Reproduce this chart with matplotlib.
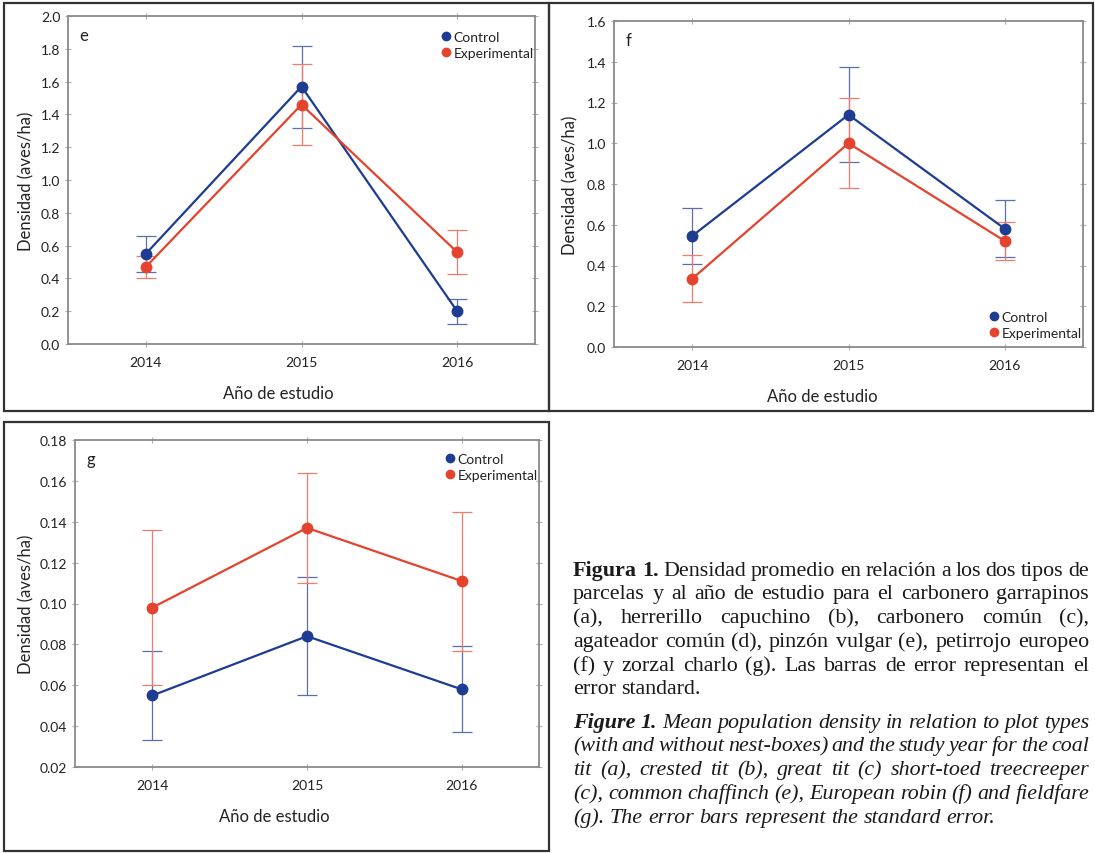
import numpy as np
import matplotlib
matplotlib.use('Agg')
import matplotlib.pyplot as plt
from matplotlib.lines import Line2D

########################################################
# Donnees
anios = [2014, 2015, 2016]
series = ['Control', 'Experimental']

# panel e
e_control = [0.55, 1.57, 0.20]
e_control_err = [0.11, 0.25, 0.075]
e_exp = [0.47, 1.46, 0.56]
e_exp_err = [0.065, 0.245, 0.135]

# panel f
f_control = [0.545, 1.14, 0.58]
f_control_err = [0.137, 0.233, 0.14]
f_exp = [0.335, 1.0, 0.52]
f_exp_err = [0.115, 0.22, 0.092]

# panel g
g_control = [0.055, 0.084, 0.058]
g_control_err = [0.022, 0.029, 0.021]
g_exp = [0.098, 0.137, 0.111]
g_exp_err = [0.038, 0.027, 0.034]

e_yticks = [0.0, 0.2, 0.4, 0.6, 0.8, 1.0, 1.2, 1.4, 1.6, 1.8, 2.0]
f_yticks = [0.0, 0.2, 0.4, 0.6, 0.8, 1.0, 1.2, 1.4, 1.6]
g_yticks = [0.02, 0.04, 0.06, 0.08, 0.10, 0.12, 0.14, 0.16, 0.18]

########################################################
W, H = 1095, 854
AZUL = '#1e3c92'
ROJO = '#e4432e'
AZUL_ERR = '#5d6fae'
ROJO_ERR = '#ee7d6e'
GRIS = '#8a8a8a'
TXT = '#222222'
plt.rcParams['font.family'] = ['Lato', 'DejaVu Sans']

fig = plt.figure(figsize=(W / 100, H / 100), dpi=100)


def rect(l, t, r, b):
    return [l / W, 1 - b / H, (r - l) / W, (b - t) / H]


def caja(l, t, r, b):
    # cadre noir autour de chaque panneau
    fig.add_artist(plt.Rectangle((l / W, 1 - b / H), (r - l) / W, (b - t) / H,
                                 transform=fig.transFigure, fill=False,
                                 edgecolor='#333333', lw=1.6))


def panel(r, ctrl, ctrl_err, exp, exp_err, yticks, fmt, letra, leg_pos, xlab_x, ylab_x):
    ax = fig.add_axes(rect(*r))
    for vals, err, col, colerr in [(ctrl, ctrl_err, AZUL, AZUL_ERR),
                                   (exp, exp_err, ROJO, ROJO_ERR)]:
        ax.errorbar(anios, vals, yerr=err, color=col, ecolor=colerr, elinewidth=0.9,
                    capsize=7, capthick=0.9, lw=1.6, marker='o', ms=7.5, zorder=3)
    ax.set_xlim(2013.5, 2016.5)
    ax.set_ylim(yticks[0], yticks[-1])
    ax.set_xticks(anios)
    ax.set_yticks(yticks)
    ax.set_yticklabels([fmt.format(v) for v in yticks])
    for s in ax.spines.values():
        s.set_color(GRIS)
        s.set_linewidth(1.3)
    ax.tick_params(direction='inout', length=5, width=0.8, color='#b0b0b0',
                   top=True, right=True, labelsize=10, labelcolor=TXT, pad=3)
    ax.tick_params(axis='x', pad=6)
    ax.set_ylabel('Densidad (aves/ha)', fontsize=12, color=TXT)
    ax.set_xlabel('Año de estudio', fontsize=12, color=TXT)
    ax.xaxis.set_label_coords(xlab_x, -0.125)
    ax.yaxis.set_label_coords(ylab_x, 0.5)
    ax.text(0.025, 0.965, letra, transform=ax.transAxes, fontsize=12,
            color=TXT, va='top')
    handles = [Line2D([], [], ls='none', marker='o', ms=6, color=AZUL),
               Line2D([], [], ls='none', marker='o', ms=6, color=ROJO)]
    ax.legend(handles, series, loc=leg_pos[0], bbox_to_anchor=leg_pos[1],
              frameon=False, fontsize=10, handlelength=0.5, handletextpad=0.3,
              labelspacing=0.3, borderpad=0, borderaxespad=0, labelcolor=TXT)
    return ax


caja(4, 4, 549, 412)
caja(549, 4, 1093, 412)
caja(4, 423, 549, 852)

panel((68, 17, 535, 345), e_control, e_control_err, e_exp, e_exp_err,
      e_yticks, '{:.1f}', 'e', ('upper right', (0.997, 0.955)), 0.45, -0.071)
panel((614, 22, 1083, 348), f_control, f_control_err, f_exp, f_exp_err,
      f_yticks, '{:.1f}', 'f', ('lower right', (0.997, 0.025)), 0.445, -0.075)
panel((75, 441, 539, 768), g_control, g_control_err, g_exp, g_exp_err,
      g_yticks, '{:.2f}', 'g', ('upper right', (0.997, 0.96)), 0.43, -0.088)

########################################################
# Legende de la figure, texte justifie
X0, X1 = 573, 1089
FS = 15.8
normal = dict(family='Liberation Serif', size=FS, color='#1a1a1a')
negrita = dict(normal, weight='bold')
italica = dict(normal, style='italic')
neg_ital = dict(normal, weight='bold', style='italic')

lineas_es = [
    'Figura 1. Densidad promedio en relación a los dos tipos de',
    'parcelas y al año de estudio para el carbonero garrapinos',
    '(a), herrerillo capuchino (b), carbonero común (c),',
    'agateador común (d), pinzón vulgar (e), petirrojo europeo',
    '(f) y zorzal charlo (g). Las barras de error representan el',
    'error standard.',
]
lineas_en = [
    'Figure 1. Mean population density in relation to plot types',
    '(with and without nest-boxes) and the study year for the coal',
    'tit (a), crested tit (b), great tit (c) short-toed treecreeper',
    '(c), common chaffinch (e), European robin (f) and fieldfare',
    '(g). The error bars represent the standard error.',
]
y_es = [576, 599, 623, 647, 671, 694]
y_en = [728, 751, 775, 799, 823]

renderer = fig.canvas.get_renderer()


def linea(texto, y, estilo, estilo_titulo, justificar):
    palabras = texto.split(' ')
    objs = []
    for i, p in enumerate(palabras):
        st = estilo_titulo if (texto.startswith('Figur') and i < 2) else estilo
        objs.append(fig.text(0, 1 - y / H, p, va='baseline', ha='left', **st))
    anchos = [o.get_window_extent(renderer).width for o in objs]
    esp = fig.text(0, 0, 'a a', **estilo)
    sin = fig.text(0, 0, 'aa', **estilo)
    espacio = esp.get_window_extent(renderer).width - sin.get_window_extent(renderer).width
    esp.remove()
    sin.remove()
    if justificar and len(objs) > 1:
        gap = (X1 - X0 - sum(anchos)) / (len(objs) - 1)
    else:
        gap = espacio
    x = X0
    for o, w in zip(objs, anchos):
        o.set_x(x / W)
        x += w + gap


for i, (t, y) in enumerate(zip(lineas_es, y_es)):
    linea(t, y, normal, negrita, i < len(lineas_es) - 1)
for i, (t, y) in enumerate(zip(lineas_en, y_en)):
    linea(t, y, italica, neg_ital, i < len(lineas_en) - 1)

fig.savefig('out.png', dpi=100, facecolor='white')
